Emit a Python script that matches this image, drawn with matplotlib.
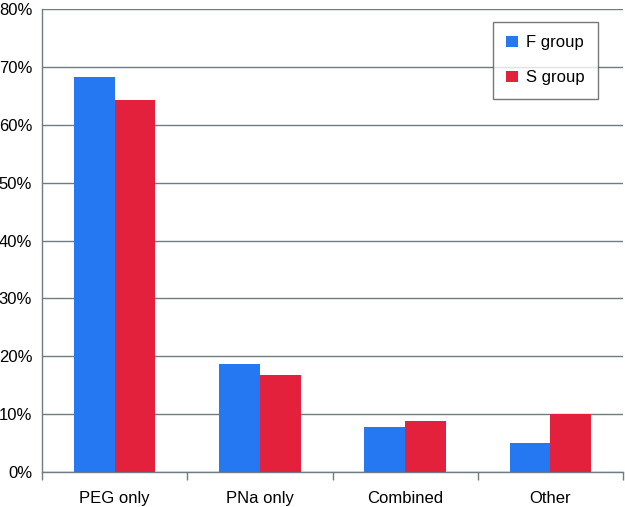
import numpy as np
import matplotlib.pyplot as plt
from matplotlib.ticker import FixedLocator

plt.rcParams['font.family'] = ['Liberation Sans', 'DejaVu Sans']

categories = ['PEG only', 'PNa only', 'Combined', 'Other']
f_group = [68.3, 18.7, 7.8, 5.0]
s_group = [64.3, 16.8, 8.9, 10.0]
y_ticks = [0, 10, 20, 30, 40, 50, 60, 70, 80]

blue = '#2677F2'
red = '#E3213C'
grid_col = '#6F7C82'

fig = plt.figure(figsize=(6.25, 5.07), dpi=100)
ax = fig.add_axes([0.067, 0.069, 0.93, 0.913])

x = np.arange(len(categories))
w = 0.28
ax.bar(x - w / 2, f_group, w, color=blue, label='F group', zorder=3)
ax.bar(x + w / 2, s_group, w, color=red, label='S group', zorder=3)

ax.set_xlim(-0.5, len(categories) - 0.5)
ax.set_ylim(0, 80)
ax.set_yticks(y_ticks)
ax.set_yticklabels([f'{v}%' for v in y_ticks], fontsize=12)
ax.set_xticks(x)
ax.set_xticklabels(categories, fontsize=12)
ax.xaxis.set_minor_locator(FixedLocator(np.arange(-0.5, len(categories), 1.0)))
ax.tick_params(axis='x', which='major', length=0, pad=14)
ax.tick_params(axis='x', which='minor', length=6, color=grid_col, width=1)
ax.tick_params(axis='y', length=0, pad=7)

ax.grid(axis='y', color=grid_col, linewidth=1, zorder=0)
for s in ['top', 'right']:
    ax.spines[s].set_visible(False)
for s in ['left', 'bottom']:
    ax.spines[s].set_color(grid_col)
    ax.spines[s].set_linewidth(1)

leg = ax.legend(loc='upper right', bbox_to_anchor=(0.957, 0.972), fontsize=12,
                frameon=True, fancybox=False, edgecolor='#555555',
                handlelength=0.7, handleheight=0.7, handletextpad=0.5,
                labelspacing=1.2, borderpad=0.8, borderaxespad=0)
leg.get_frame().set_linewidth(1)

fig.savefig('out.png', dpi=100)
